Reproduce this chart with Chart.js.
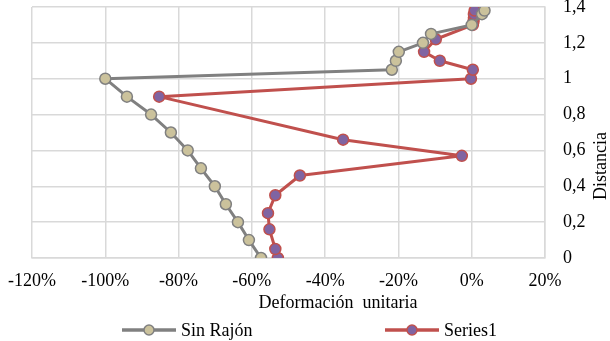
<!DOCTYPE html>
<html>
<head>
<meta charset="utf-8">
<script src="https://cdn.jsdelivr.net/npm/chart.js@4"></script>
<style>
  body { margin: 0; background: #fff; }
  #wrap { position: relative; width: 610px; height: 341px; }
  .leg { position: absolute; top: 319px; height: 22px; font: 18px "Liberation Serif", serif; color: #000; display: flex; align-items: center; }
  .leg canvas { margin-right: 5px; }
</style>
</head>
<body>
<div id="wrap">
  <canvas id="myChart" width="610" height="341"></canvas>
  <div class="leg" style="left:122px"><canvas id="l1" width="54" height="14"></canvas>Sin Rajón</div>
  <div class="leg" style="left:385px"><canvas id="l2" width="54" height="14"></canvas>Series1</div>
</div>
<script>
// deformación (fracción) y distancia
const sinRajonX = [-0.575, -0.608, -0.638, -0.671, -0.701, -0.739, -0.775, -0.821, -0.875, -0.941, -1.0,
  -0.218, -0.207, -0.199, -0.133, -0.111, 0.0, 0.028, 0.035];
const sinRajonY = [0, 0.1, 0.2, 0.3, 0.4, 0.5, 0.6, 0.7, 0.8, 0.9, 1.0,
  1.05, 1.1, 1.15, 1.2, 1.25, 1.3, 1.36, 1.38];

const series1X = [-0.529, -0.536, -0.552, -0.556, -0.536, -0.469, -0.027, -0.351, -0.853, -0.002, 0.003,
  -0.087, -0.13, -0.098, 0.003, 0.005, 0.006, 0.006, 0.008];
const series1Y = [0, 0.05, 0.16, 0.25, 0.35, 0.46, 0.57, 0.66, 0.9, 1.0, 1.05,
  1.1, 1.15, 1.22, 1.3, 1.32, 1.34, 1.36, 1.38];

const xTicks = [-1.2, -1.0, -0.8, -0.6, -0.4, -0.2, 0, 0.2];
const yTicks = [0, 0.2, 0.4, 0.6, 0.8, 1, 1.2, 1.4];
const xTitle = 'Deformación  unitaria';
const yTitle = 'Distancia';

const GRAY = '#808080', TAN = '#cbc29c', RED = '#c0504d', PURPLE = '#8064a2';
const FONT = { family: '"Liberation Serif", serif', size: 18 };

function toPoints(xs, ys) {
  return xs.map((x, i) => ({ x: x, y: ys[i] }));
}

function legendIcon(id, line, fill) {
  const c = document.getElementById(id).getContext('2d');
  c.strokeStyle = line; c.lineWidth = 3.5;
  c.beginPath(); c.moveTo(0, 7); c.lineTo(54, 7); c.stroke();
  c.beginPath(); c.arc(27, 7, 5, 0, Math.PI * 2);
  c.fillStyle = fill; c.fill(); c.lineWidth = 1.5; c.stroke();
}
legendIcon('l1', GRAY, TAN);
legendIcon('l2', RED, PURPLE);

// axis titles drawn by hand: the y title reads bottom-up and the x title sits right of centre
const axisTitles = {
  id: 'axisTitles',
  afterDraw(chart) {
    const ctx = chart.ctx;
    ctx.save();
    ctx.font = '18px "Liberation Serif", serif';
    ctx.fillStyle = '#000';
    ctx.textAlign = 'center';
    ctx.textBaseline = 'middle';
    ctx.fillText(xTitle, 338, 303);
    ctx.translate(601, 166);
    ctx.rotate(-Math.PI / 2);
    ctx.fillText(yTitle, 0, 0);
    ctx.restore();
  }
};

Chart.defaults.color = '#000';

new Chart(document.getElementById('myChart'), {
  type: 'scatter',
  data: {
    datasets: [{
      label: 'Sin Rajón',
      data: toPoints(sinRajonX, sinRajonY),
      showLine: true,
      borderColor: GRAY,
      borderWidth: 3,
      borderJoinStyle: 'round',
      pointBackgroundColor: TAN,
      pointBorderColor: GRAY,
      pointBorderWidth: 1.5,
      pointRadius: 5.5
    }, {
      label: 'Series1',
      data: toPoints(series1X, series1Y),
      showLine: true,
      borderColor: RED,
      borderWidth: 3,
      borderJoinStyle: 'round',
      pointBackgroundColor: PURPLE,
      pointBorderColor: RED,
      pointBorderWidth: 1.5,
      pointRadius: 5.5
    }]
  },
  options: {
    responsive: false,
    animation: false,
    layout: { padding: { left: 32, top: 7, right: 0, bottom: 22 } },
    plugins: { legend: { display: false }, tooltip: { enabled: false } },
    scales: {
      x: {
        type: 'linear',
        min: -1.2, max: 0.2,
        afterBuildTicks: s => { s.ticks = xTicks.map(v => ({ value: v })); },
        afterFit: s => { s.height = 61; s.paddingLeft = 0; s.paddingRight = 0; },
        grid: { color: '#d9d9d9', lineWidth: 1.5, drawTicks: false },
        border: { color: '#d9d9d9', width: 1.5 },
        ticks: { font: FONT, padding: 12, maxRotation: 0,
          callback: v => Math.round(v * 100) + '%' }
      },
      y: {
        type: 'linear',
        position: 'right',
        min: 0, max: 1.4,
        afterBuildTicks: s => { s.ticks = yTicks.map(v => ({ value: v })); },
        afterFit: s => { s.width = 65; s.paddingTop = 0; s.paddingBottom = 0; },
        grid: { color: '#d9d9d9', lineWidth: 1.5, drawTicks: false },
        border: { color: '#d9d9d9', width: 1.5 },
        ticks: { font: FONT, padding: 18,
          callback: v => String(Math.round(v * 10) / 10).replace('.', ',') }
      }
    }
  },
  plugins: [axisTitles]
});
</script>
</body>
</html>
